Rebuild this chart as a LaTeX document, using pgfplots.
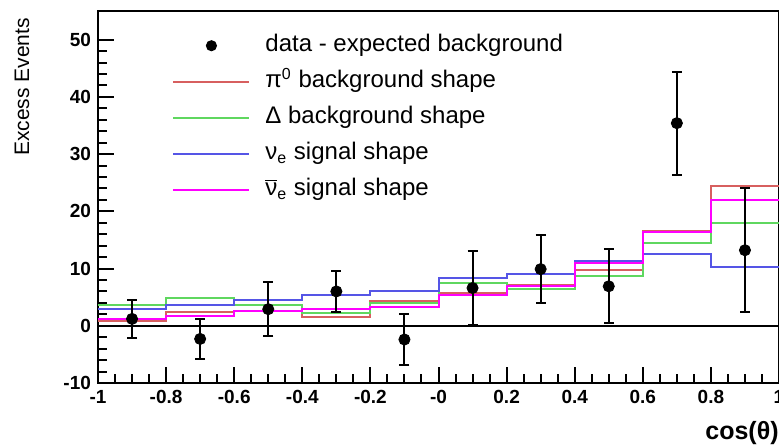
\documentclass[border=0pt]{standalone}
\usepackage{fontspec}
\setmainfont{Liberation Sans}
\usepackage{pgfplots}
\pgfplotsset{compat=1.18}
\definecolor{hred}{RGB}{215,95,95}
\definecolor{hgreen}{RGB}{95,215,95}
\definecolor{hblue}{RGB}{85,85,230}
\definecolor{hmag}{RGB}{255,0,255}
\begin{document}
\begin{tikzpicture}
\useasboundingbox (-49pt,-32.5pt) rectangle (340.5pt,191.5pt);
\begin{axis}[
  at={(0pt,0pt)}, anchor=south west, scale only axis,
  width=340.5pt, height=186pt,
  xmin=-1, xmax=1, ymin=-10, ymax=55,
  xtick={-1,-0.8,-0.6,-0.4,-0.2,0,0.2,0.4,0.6,0.8,1},
  xticklabels={-1,-0.8,-0.6,-0.4,-0.2,-0,0.2,0.4,0.6,0.8,1},
  ytick={-10,0,10,20,30,40,50},
  yticklabels={-10,0,10,20,30,40,50},
  minor x tick num=3, minor y tick num=4,
  tick align=inside, xtick pos=bottom, ytick pos=left,
  major tick length=8pt, minor tick length=4.5pt,
  axis line style={line width=1pt},
  tick style={black, line width=1pt},
  tick label style={font=\fontsize{9.5}{11}\selectfont\bfseries},
  ylabel={Excess Events},
  ylabel style={at={(axis description cs:-0.1116,1.0)}, anchor=east, font=\fontsize{10.5}{12}\selectfont},
  xlabel={cos(θ)},
  xlabel style={at={(axis description cs:1,-0.134)}, anchor=east, inner sep=0pt, font=\fontsize{12.5}{14}\selectfont\bfseries},
  legend cell align=left,
  legend image code/.code={\draw[#1, line width=1pt] (0pt,0pt) -- (38pt,0pt);},
  legend style={draw=none, fill=none, at={(axis description cs:0.1087,0.94)}, anchor=north west,
    inner sep=0pt, column sep=7.5pt, row sep=6pt,
    nodes={inner sep=0pt, text height=9pt, text depth=3pt},
    font=\fontsize{12}{14}\selectfont},
]
\addplot[black, line width=1pt, forget plot] coordinates {(-1,0) (1,0)};
\addlegendimage{legend image code/.code={\path[draw=none,fill=none] (0pt,0pt) -- (38pt,0pt); \fill[black, draw=none] (19pt,0pt) circle (2.8pt);}}
\addlegendentry{data - expected background}
\addplot[hred, line width=1pt, const plot] coordinates {
  (-1,0.8) (-0.8,2.4) (-0.6,2.6) (-0.4,1.6) (-0.2,4.4) (0,5.7) (0.2,7.2) (0.4,9.8) (0.6,16.5) (0.8,24.5) (1,24.5)};
\addlegendentry{π\textsuperscript{0} background shape}
\addplot[hgreen, line width=1pt, const plot] coordinates {
  (-1,3.6) (-0.8,4.8) (-0.6,3.6) (-0.4,2.2) (-0.2,4.0) (0,7.4) (0.2,6.5) (0.4,8.7) (0.6,14.4) (0.8,18.0) (1,18.0)};
\addlegendentry{Δ background shape}
\addplot[hblue, line width=1pt, const plot] coordinates {
  (-1,2.9) (-0.8,3.6) (-0.6,4.5) (-0.4,5.3) (-0.2,6.1) (0,8.3) (0.2,9.0) (0.4,11.4) (0.6,12.6) (0.8,10.2) (1,10.2)};
\addlegendentry{ν\textsubscript{e} signal shape}
\addplot[hmag, line width=1pt, const plot] coordinates {
  (-1,1.2) (-0.8,1.7) (-0.6,2.5) (-0.4,2.9) (-0.2,3.2) (0,5.3) (0.2,6.9) (0.4,11.0) (0.6,16.4) (0.8,22.0) (1,22.0)};
\addlegendentry{$\overline{\mbox{ν}}$\textsubscript{e} signal shape}
\addplot[black, only marks, mark=*, mark size=2.8pt, forget plot,
  error bars/.cd, y dir=both, y explicit, error mark=-,
  error mark options={rotate=90, black, line width=1pt, mark size=2.5pt},
  error bar style={line width=1pt}] coordinates {
  (-0.9,1.2) +- (0,3.3)
  (-0.7,-2.3) +- (0,3.5)
  (-0.5,2.9) +- (0,4.7)
  (-0.3,6.0) +- (0,3.6)
  (-0.1,-2.4) +- (0,4.4)
  (0.1,6.6) +- (0,6.4)
  (0.3,9.9) +- (0,5.9)
  (0.5,6.9) +- (0,6.5)
  (0.7,35.4) +- (0,9.0)
  (0.9,13.2) +- (0,10.8)
};
\end{axis}
\end{tikzpicture}
\end{document}
